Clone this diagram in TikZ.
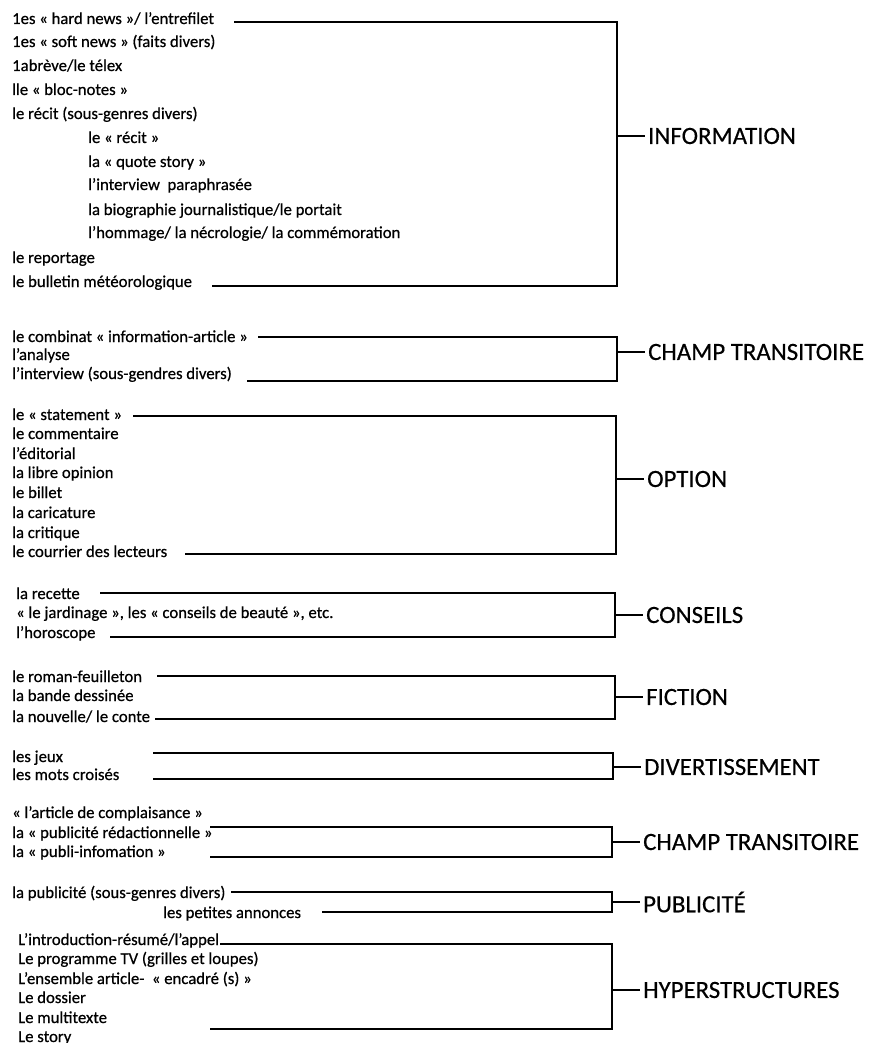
\documentclass[tikz,border=0pt]{standalone}
\usepackage{fontspec}
\setmainfont{Carlito}
\usetikzlibrary{positioning}

\begin{document}
\begin{tikzpicture}[
    x=1pt, y=-1pt,
    node distance=28pt,
    genre/.style={anchor=base west, inner sep=0pt, font=\fontsize{16.7}{20}\selectfont\addfontfeature{FakeBold=0.6}},
    field/.style={inner sep=3pt, font=\fontsize{24.8}{29}\selectfont\addfontfeature{FakeBold=0.4}},
    bracket/.style={line width=1.7pt},
]
\useasboundingbox (0,0) rectangle (870,1043);

% information
\node[genre] (hard) at (12,24) {1es « hard news »/ l’entrefilet};
\node[genre] (soft) at (12,47) {1es « soft news » (faits divers)};
\node[genre] (breve) at (12,71) {1abrève/le télex};
\node[genre] (bloc) at (12,95) {lle « bloc-notes »};
\node[genre] (recit) at (12,119) {le récit (sous-genres divers)};
\node[genre] (recitq) at (88,143) {le « récit »};
\node[genre] (quote) at (88,167) {la « quote story »};
\node[genre] (interp) at (88,190) {l’interview\ \ paraphrasée};
\node[genre] (bio) at (88,215) {la biographie journalistique/le portait};
\node[genre] (hommage) at (88,238) {l’hommage/ la nécrologie/ la commémoration};
\node[genre] (reportage) at (12,263) {le reportage};
\node[genre] (meteo) at (12,287) {le bulletin météorologique};
\coordinate (infoA) at (234,22);
\coordinate (infoB) at (212,286);
\coordinate (infoM) at (617,136);
\node[field] (info) [right=of infoM] {INFORMATION};

% champ transitoire (haut)
\node[genre] (combinat) at (12,342) {le combinat « information-article »};
\node[genre] (analyse) at (12,360) {l’analyse};
\node[genre] (interv) at (12,379) {l’interview (sous-gendres divers)};
\coordinate (ctaA) at (258,337);
\coordinate (ctaB) at (247,381);
\coordinate (ctaM) at (617,352);
\node[field] (cta) [right=of ctaM] {CHAMP TRANSITOIRE};

% option
\node[genre] (statement) at (12,420) {le « statement »};
\node[genre] (comment) at (12,439) {le commentaire};
\node[genre] (edito) at (12,459) {l’éditorial};
\node[genre] (libre) at (12,478) {la libre opinion};
\node[genre] (billet) at (12,498) {le billet};
\node[genre] (carica) at (12,518) {la caricature};
\node[genre] (critique) at (12,538) {la critique};
\node[genre] (courrier) at (12,557) {le courrier des lecteurs};
\coordinate (optA) at (133,416);
\coordinate (optB) at (185,554);
\coordinate (optM) at (616,479);
\node[field] (opt) [right=of optM] {OPTION};

% conseils
\node[genre] (recette) at (16,599) {la recette};
\node[genre] (jardin) at (16,618) {« le jardinage », les « conseils de beauté », etc.};
\node[genre] (horo) at (16,638) {l’horoscope};
\coordinate (consA) at (100,593);
\coordinate (consB) at (110,637);
\coordinate (consM) at (615,615);
\node[field] (cons) [right=of consM] {CONSEILS};

% fiction
\node[genre] (roman) at (12,682) {le roman-feuilleton};
\node[genre] (bd) at (12,701) {la bande dessinée};
\node[genre] (nouvelle) at (12,722) {la nouvelle/ le conte};
\coordinate (ficA) at (157,676);
\coordinate (ficB) at (155,719);
\coordinate (ficM) at (615,697);
\node[field] (fic) [right=of ficM] {FICTION};

% divertissement
\node[genre] (jeux) at (12,762) {les jeux};
\node[genre] (mots) at (12,780) {les mots croisés};
\coordinate (divA) at (153,753);
\coordinate (divB) at (153,779);
\coordinate (divM) at (613,767);
\node[field] (div) [right=of divM] {DIVERTISSEMENT};

% champ transitoire (bas)
\node[genre] (complai) at (12,818) {« l’article de complaisance »};
\node[genre] (redac) at (12,838) {la « publicité rédactionnelle »};
\node[genre] (publinfo) at (12,857) {la « publi-infomation »};
\coordinate (ctbA) at (210,827);
\coordinate (ctbB) at (210,857);
\coordinate (ctbM) at (612,842);
\node[field] (ctb) [right=of ctbM] {CHAMP TRANSITOIRE};

% publicite
\node[genre] (pubgen) at (12,898) {la publicité (sous-genres divers)};
\node[genre] (annonces) at (163,918) {les petites annonces};
\coordinate (pubA) at (231,892);
\coordinate (pubB) at (322,912);
\coordinate (pubM) at (612,902);
\node[field] (pub) [right=of pubM] {PUBLICITÉ};

% hyperstructures
\node[genre] (intro) at (18,945) {L’introduction-résumé/l’appel};
\node[genre] (progtv) at (18,964) {Le programme TV (grilles et loupes)};
\node[genre] (ensemble) at (18,984) {L’ensemble article-\ \ « encadré (s) »};
\node[genre] (dossier) at (18,1003) {Le dossier};
\node[genre] (multi) at (18,1023) {Le multitexte};
\node[genre] (story) at (18,1042) {Le story};
\coordinate (hypA) at (220,944);
\coordinate (hypB) at (210,1029);
\coordinate (hypM) at (612,990);
\node[field] (hyp) [right=of hypM] {HYPERSTRUCTURES};

\draw[bracket] (infoA) -- (infoA -| infoM) -- (infoB -| infoM) -- (infoB);
\draw[bracket] (infoM) -- (info.west);
\draw[bracket] (ctaA) -- (ctaA -| ctaM) -- (ctaB -| ctaM) -- (ctaB);
\draw[bracket] (ctaM) -- (cta.west);
\draw[bracket] (optA) -- (optA -| optM) -- (optB -| optM) -- (optB);
\draw[bracket] (optM) -- (opt.west);
\draw[bracket] (consA) -- (consA -| consM) -- (consB -| consM) -- (consB);
\draw[bracket] (consM) -- (cons.west);
\draw[bracket] (ficA) -- (ficA -| ficM) -- (ficB -| ficM) -- (ficB);
\draw[bracket] (ficM) -- (fic.west);
\draw[bracket] (divA) -- (divA -| divM) -- (divB -| divM) -- (divB);
\draw[bracket] (divM) -- (div.west);
\draw[bracket] (ctbA) -- (ctbA -| ctbM) -- (ctbB -| ctbM) -- (ctbB);
\draw[bracket] (ctbM) -- (ctb.west);
\draw[bracket] (pubA) -- (pubA -| pubM) -- (pubB -| pubM) -- (pubB);
\draw[bracket] (pubM) -- (pub.west);
\draw[bracket] (hypA) -- (hypA -| hypM) -- (hypB -| hypM) -- (hypB);
\draw[bracket] (hypM) -- (hyp.west);

\end{tikzpicture}
\end{document}
